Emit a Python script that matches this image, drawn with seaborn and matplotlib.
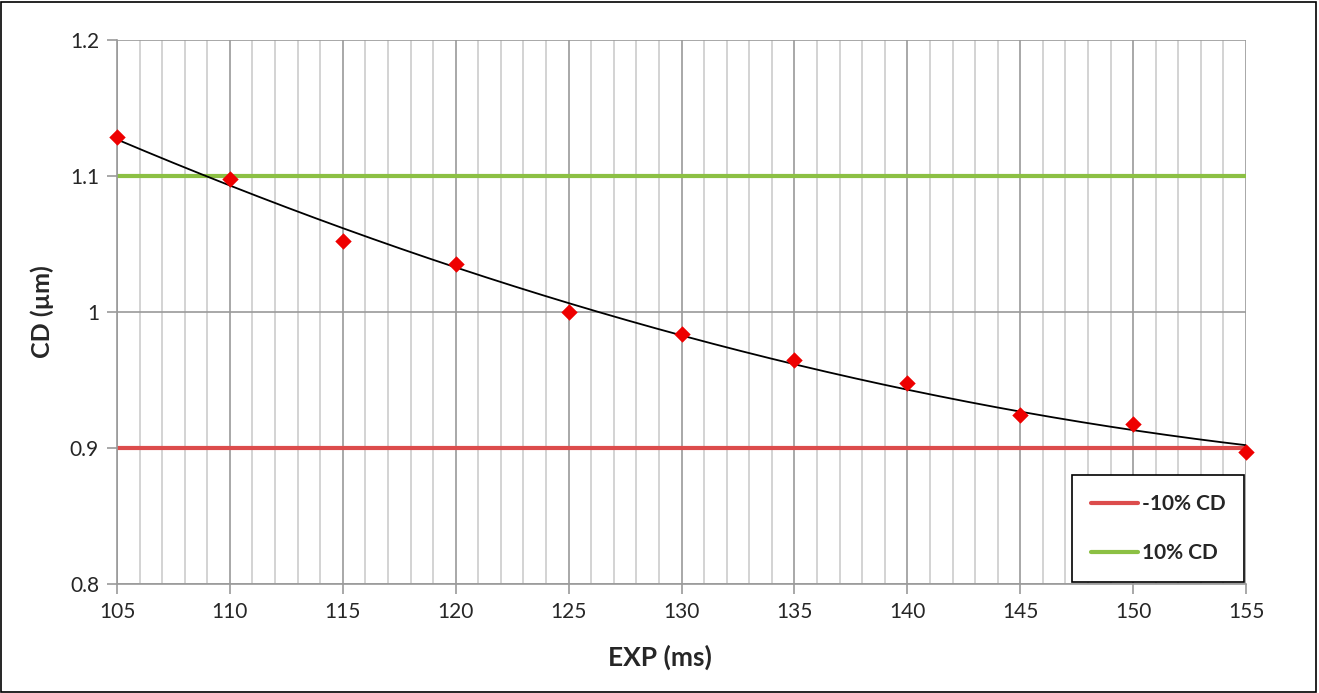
import numpy as np
import pandas as pd
import matplotlib
matplotlib.use("Agg")
import matplotlib.pyplot as plt
import seaborn as sns
from matplotlib.ticker import MultipleLocator, FuncFormatter
from matplotlib.patches import Rectangle

exp_ms = [105, 110, 115, 120, 125, 130, 135, 140, 145, 150, 155]
cd_um = [1.129, 1.098, 1.052, 1.035, 1.000, 0.984, 0.965, 0.948, 0.924, 0.918, 0.897]
lower_limit = 0.9
upper_limit = 1.1

data = pd.DataFrame({"EXP": exp_ms, "CD": cd_um})

sns.set_style("white")
plt.rcParams["font.family"] = ["Lato", "DejaVu Sans"]

fig = plt.figure(figsize=(13.19, 6.93), dpi=100)
ax = fig.add_axes([0.0887, 0.1573, 0.856, 0.785])

# gridlines
ax.xaxis.set_major_locator(MultipleLocator(5))
ax.xaxis.set_minor_locator(MultipleLocator(1))
ax.yaxis.set_major_locator(MultipleLocator(0.1))
ax.grid(which="minor", axis="x", color="#c8c8c8", linewidth=1.1)
ax.grid(which="major", axis="x", color="#9a9a9a", linewidth=1.2)
ax.grid(which="major", axis="y", color="#9a9a9a", linewidth=1.2)
ax.set_axisbelow(True)

# trendline (2nd order polynomial fit)
x_fit = np.linspace(min(exp_ms), max(exp_ms), 200)
coef = np.polyfit(data["EXP"], data["CD"], 2)
ax.plot(x_fit, np.polyval(coef, x_fit), color="black", linewidth=1.3, zorder=3)

ax.axhline(lower_limit, color="#dc4c4c", linewidth=3, label="-10% CD", zorder=2)
ax.axhline(upper_limit, color="#8cc044", linewidth=3, label="10% CD", zorder=2)

sns.scatterplot(data=data, x="EXP", y="CD", marker="D", s=70, color="#ee0000",
                edgecolor="#ee0000", linewidth=0, ax=ax, zorder=4, clip_on=False)

ax.set_xlim(105, 155)
ax.set_ylim(0.8, 1.2)
ax.yaxis.set_major_formatter(FuncFormatter(lambda v, p: f"{v:g}"))

for side in ["top", "right"]:
    ax.spines[side].set_visible(False)
for side in ["left", "bottom"]:
    ax.spines[side].set_color("#9a9a9a")
    ax.spines[side].set_linewidth(1.2)

ax.tick_params(which="major", direction="out", length=7, width=1.2, color="#9a9a9a",
               labelsize=15, pad=6, bottom=True, left=True)
ax.tick_params(which="minor", length=0)

ax.set_xlabel("EXP (ms)", fontsize=19, fontweight="bold")
ax.set_ylabel("CD (µm)", fontsize=18, fontweight="bold")
ax.xaxis.set_label_coords(0.481, -0.112)
ax.yaxis.set_label_coords(-0.056, 0.5)

leg = ax.legend(loc="lower right", prop={"weight": "bold", "size": 15},
                frameon=True, fancybox=False, edgecolor="black", framealpha=1,
                borderpad=0.9, labelspacing=1.4, handlelength=2.3, handletextpad=0.15,
                borderaxespad=0.1)
leg.get_frame().set_linewidth(1.2)

fig.patches.append(Rectangle((0.001, 0.002), 0.997, 0.995, transform=fig.transFigure,
                             fill=False, edgecolor="black", linewidth=1.2))

fig.savefig("out.png", dpi=100)
